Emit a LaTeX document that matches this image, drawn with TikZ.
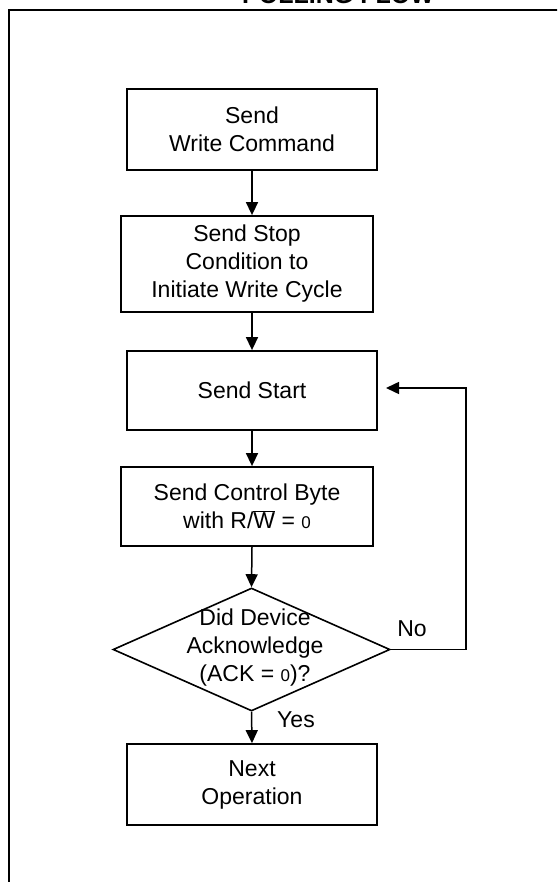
\documentclass[tikz,border=0pt]{standalone}
\usepackage{fontspec}
\setmainfont{Liberation Sans}
\usetikzlibrary{shapes.geometric,arrows.meta}
\begin{document}
\begin{tikzpicture}[x=1pt,y=-1pt,
  box/.style={draw,line width=1.8pt,minimum width=250pt,minimum height=80pt,inner sep=0pt,align=center,font=\fontsize{23}{28}\selectfont},
  arr/.style={line width=1.5pt,-{Triangle[length=13pt,width=12pt]}},
  lbl/.style={font=\fontsize{23}{28}\selectfont,inner sep=0pt,align=center},
  zero/.style={font=\fontsize{17}{17}\selectfont}]
\useasboundingbox (0,0) rectangle (557,882);
\clip (0,0) rectangle (557,882);
% title (cut off at the top)
\node[anchor=base west,inner sep=0pt,font=\bfseries\fontsize{25}{25}\selectfont] (title) at (242,4) {POLLING FLOW};
% frame
\draw[line width=2pt] (8.5,890) |- (565,10);
% boxes
\node[box,minimum height=81pt] (b1) at (252,129.5) {Send\\Write Command};
\node[box,minimum width=252pt,minimum height=96pt] (b2) at (247,264) {Send Stop\\Condition to\\Initiate Write Cycle};
\node[box,minimum height=79pt] (b3) at (252,390.5) {Send Start};
\node[box,minimum width=252pt,minimum height=79pt] (b4) at (247,506.5) {Send Control Byte\\with R/$\overline{\mbox{W}}$ = {\fontsize{17}{17}\selectfont 0}};
\node[draw,diamond,line width=1.6pt,minimum width=277pt,minimum height=123pt,inner sep=0pt] (dec) at (251.5,649.5) {};
\node[lbl] (dect) at (255,648) {Did Device\\Acknowledge\\(ACK = {\fontsize{17}{17}\selectfont 0})?};
\node[box,minimum height=81pt] (b5) at (252,784.5) {Next\\Operation};
% connectors
\draw[arr] (b1.south) -- (b1.south |- b2.north);
\draw[arr] (b1.south |- b2.south) -- (b1.south |- b3.north);
\draw[arr] (b3.south) -- (b3.south |- b4.north);
\draw[arr] (b3.south |- b4.south) -- (dec.north);
\draw[arr] (dec.south) -- (b5.north);
\coordinate (fbc) at (466,388);
\coordinate (fbend) at (386,388);
\draw[arr] (dec.east) -| (fbc) -- (fbend);
% labels
\node[lbl] (no) at (412,629) {No};
\node[lbl] (yes) at (296,720) {Yes};
\end{tikzpicture}
\end{document}
